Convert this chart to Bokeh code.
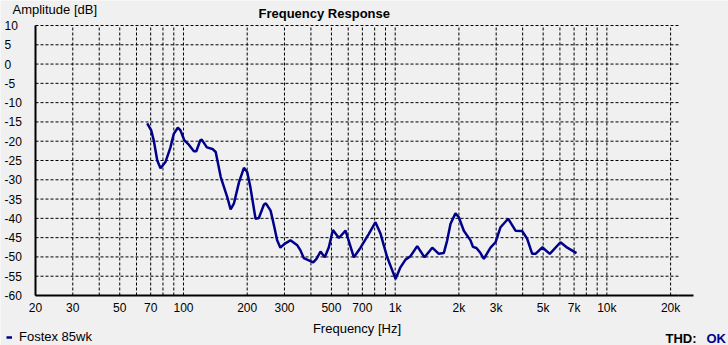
from bokeh.plotting import figure
from bokeh.models import (FixedTicker, CustomJSTickFormatter, Label, Legend,
                          LegendItem, Range1d)
from bokeh.embed import file_html
from bokeh.resources import INLINE

# ---- data ----
freq_hz = [67.4, 70.4, 72.4, 75.2, 77.9, 82.2, 86.8, 90.0, 94.0, 96.8,
           101, 106, 112, 115, 120, 122, 129, 137, 142, 150,
           161, 167, 173, 183, 193, 200, 207, 219, 227, 240,
           245, 258, 268, 277, 287, 300, 320, 345, 357, 370,
           384, 410, 425, 444, 465, 486, 508, 542, 583, 638,
           686, 751, 807, 853, 917, 1004, 1059, 1119, 1181, 1271,
           1376, 1497, 1608, 1697, 1761, 1826, 1927, 1998, 2110, 2269,
           2330, 2420, 2530, 2623, 2821, 2978, 3145, 3418, 3702, 3981,
           4203, 4439, 4603, 4951, 5375, 6039, 6498, 7188]
amplitude_db = [-15.4, -17.2, -19.8, -25.0, -27.0, -25.4, -21.6, -18.1, -16.5, -17.2,
                -19.8, -20.9, -22.6, -22.6, -19.8, -19.6, -21.6, -22.0, -22.8, -29.3,
                -34.5, -37.7, -36.2, -30.6, -26.9, -28.0, -31.9, -40.1, -39.9, -36.4,
                -36.1, -38.0, -42.0, -45.7, -47.6, -46.6, -45.7, -47.0, -48.3, -50.3,
                -50.7, -51.4, -50.5, -48.6, -50.1, -47.5, -43.0, -45.1, -43.2, -50.1,
                -47.6, -44.0, -41.0, -44.0, -50.1, -55.7, -52.7, -50.7, -49.8, -47.2,
                -50.1, -47.6, -49.2, -49.0, -45.7, -41.4, -38.7, -39.7, -43.2, -45.7,
                -47.4, -47.7, -49.0, -50.5, -47.6, -46.2, -42.3, -40.1, -43.2, -43.3,
                -45.3, -49.2, -49.2, -47.5, -49.2, -46.2, -47.6, -49.0]
series_name = "Fostex 85wk"

y_ticks = [10, 5, 0, -5, -10, -15, -20, -25, -30, -35, -40, -45, -50, -55, -60]
x_grid_ticks = [30, 40, 50, 60, 70, 80, 90,
                100, 200, 300, 400, 500, 600, 700, 800, 900,
                1000, 2000, 3000, 4000, 5000, 6000, 7000, 8000, 9000,
                10000, 20000]
x_label_ticks = [20, 30, 50, 70, 100, 200, 300, 500, 700,
                 1000, 2000, 3000, 5000, 7000, 10000, 20000]

# ---- layout / style ----
W, H = 728, 345
X0_PX, PX_PER_DECADE = 35, 211.7       # where the first frequency sits, decade width
Y_TOP_PX, Y_BOT_PX = 25, 295           # pixel rows of the top and bottom dB values
GRID_RIGHT_PX, AXIS_RIGHT_PX = 678, 693
BG = "#F0F0F0"
NAVY = "#00008B"
FONT = "Liberation Sans"

f_min = x_label_ticks[0]
db_top, db_bot = max(y_ticks), min(y_ticks)
px_per_db = (Y_BOT_PX - Y_TOP_PX) / (db_top - db_bot)
x_start = f_min * 10 ** (-X0_PX / PX_PER_DECADE)
x_end = f_min * 10 ** ((W - X0_PX) / PX_PER_DECADE)
grid_x_end = f_min * 10 ** ((GRID_RIGHT_PX - X0_PX) / PX_PER_DECADE)
axis_x_end = f_min * 10 ** ((AXIS_RIGHT_PX - X0_PX) / PX_PER_DECADE)
y_end = db_top + Y_TOP_PX / px_per_db
y_start = db_bot - (H - Y_BOT_PX) / px_per_db

p = figure(width=W, height=H, x_axis_type="log",
           x_range=Range1d(x_start, x_end), y_range=Range1d(y_start, y_end),
           output_backend="svg", toolbar_location=None,
           min_border=0, min_border_left=0, min_border_right=0,
           min_border_top=0, min_border_bottom=0,
           background_fill_color=BG, border_fill_color=BG,
           outline_line_color=None)
p.xgrid.visible = False
p.ygrid.visible = False

# dashed grid limited to the plotting area
p.segment(x0=x_grid_ticks, y0=[db_bot] * len(x_grid_ticks),
          x1=x_grid_ticks, y1=[db_top] * len(x_grid_ticks),
          line_color="black", line_dash="3 2", line_width=1)
p.segment(x0=[f_min] * len(y_ticks), y0=y_ticks,
          x1=[grid_x_end] * len(y_ticks), y1=y_ticks,
          line_color="black", line_dash="3 2", line_width=1)
# the x axis rule runs a little past the grid, as in the reference
p.segment(x0=[grid_x_end], y0=[db_bot], x1=[axis_x_end], y1=[db_bot],
          line_color="black", line_width=2)

# x axis
xa = p.xaxis[0]
xa.fixed_location = db_bot
xa.bounds = (f_min, grid_x_end)
xa.ticker = FixedTicker(ticks=x_label_ticks)
xa.formatter = CustomJSTickFormatter(
    code="return tick >= 1000 ? (tick/1000) + 'k' : String(tick);")
xa.major_tick_out = 0
xa.major_tick_in = 0
xa.minor_tick_out = 0
xa.minor_tick_in = 0
xa.axis_line_width = 2
xa.axis_line_color = "black"
xa.major_label_text_font = FONT
xa.major_label_text_font_size = "12px"
xa.major_label_text_color = "black"
xa.major_label_standoff = 5
xa.axis_label = "Frequency [Hz]"
xa.axis_label_text_font = FONT
xa.axis_label_text_font_size = "13px"
xa.axis_label_text_font_style = "normal"
xa.axis_label_text_color = "black"
xa.axis_label_standoff = 3

# y axis: line from the library, labels left-aligned as in the reference
ya = p.yaxis[0]
ya.fixed_location = f_min
ya.bounds = (db_bot, db_top)
ya.ticker = FixedTicker(ticks=[])
ya.major_tick_out = 0
ya.major_tick_in = 0
ya.minor_tick_out = 0
ya.minor_tick_in = 0
ya.axis_line_width = 2
ya.axis_line_color = "black"

for t in y_ticks:
    p.add_layout(Label(x=4, y=t, x_units="canvas", y_units="data", text=str(t),
                       text_font=FONT, text_font_size="12px", text_color="black",
                       text_align="left", text_baseline="middle"))

# curve
r = p.line(freq_hz, amplitude_db, line_color=NAVY, line_width=2.5)

# texts
def add_text(x, y, text, size="13px", style="normal", color="black"):
    p.add_layout(Label(x=x, y=y, x_units="canvas", y_units="canvas", text=text,
                       text_font=FONT, text_font_size=size, text_font_style=style,
                       text_color=color, text_align="left", text_baseline="middle"))

add_text(12, 9, "Amplitude [dB]")
add_text(258, 12.5, "Frequency Response", style="bold")
add_text(665, 337.5, "THD:", style="bold")
add_text(706, 337.5, "OK", style="bold", color=NAVY)

legend = Legend(items=[LegendItem(label=series_name, renderers=[r])],
                location=(6, 1), orientation="horizontal",
                glyph_width=6, glyph_height=14, label_standoff=7,
                label_text_font=FONT, label_text_font_size="13px",
                label_text_color="black", label_height=14,
                padding=0, margin=0, spacing=0,
                background_fill_alpha=0, border_line_color=None)
p.add_layout(legend)

open("out.html", "w").write(file_html(p, INLINE))
